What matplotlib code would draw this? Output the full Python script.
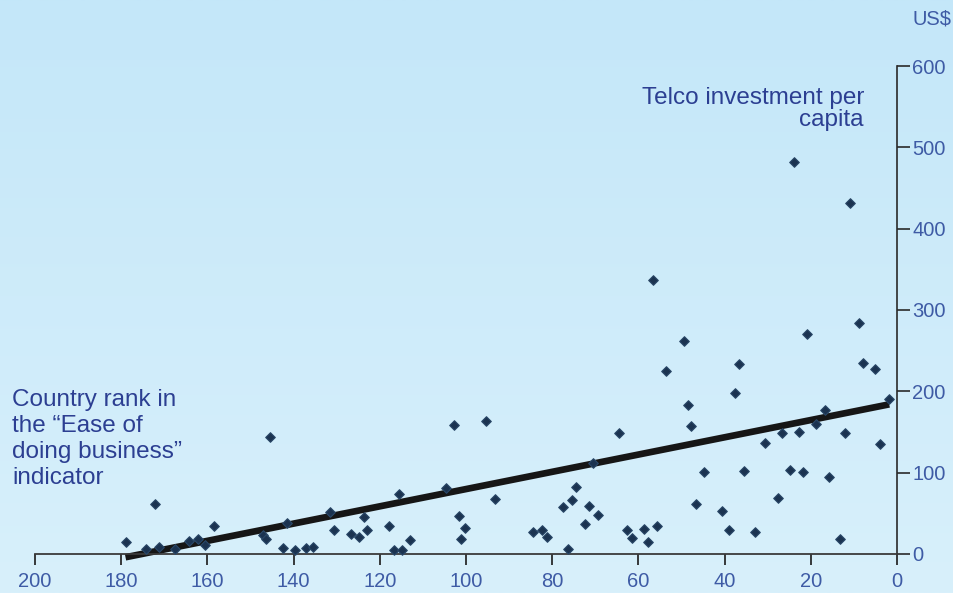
import numpy as np
import matplotlib
matplotlib.use('Agg')
import matplotlib.pyplot as plt
from matplotlib.colors import LinearSegmentedColormap

# Country rank in the "Ease of doing business" indicator
rank = [179.0, 172.1, 174.2, 171.3, 167.6, 164.2, 162.1, 160.5, 158.4, 147.2,
        146.3, 145.4, 141.5, 142.5, 139.6, 137.1, 135.6, 131.5, 130.7, 126.7,
        124.8, 123.6, 122.9, 117.9, 116.8, 114.8, 115.6, 113.1, 104.7, 102.7,
        101.6, 100.3, 101.1, 95.3, 93.3, 84.5, 82.4, 81.3, 77.4, 76.3,
        75.3, 74.4, 72.4, 71.4, 70.5, 69.4, 64.4, 62.6, 61.6, 58.6,
        57.8, 55.7, 56.6, 53.5, 49.5, 48.6, 47.7, 46.6, 44.7, 40.6,
        38.9, 37.7, 36.7, 35.6, 32.9, 30.7, 27.7, 26.7, 24.8, 23.8,
        22.7, 21.8, 20.8, 18.7, 16.8, 15.8, 13.2, 12.0, 10.8, 8.9,
        7.8, 5.0, 3.9, 1.8]
# Telco investment per capita, US$
invest = [15, 62, 6, 9, 6, 16, 18, 11, 35, 23,
          18, 144, 38, 7, 5, 7, 9, 52, 30, 25,
          21, 46, 30, 35, 5, 5, 74, 17, 81, 158,
          47, 32, 19, 163, 68, 27, 29, 21, 58, 6,
          67, 82, 37, 59, 112, 48, 149, 29, 20, 31,
          15, 34, 337, 225, 262, 183, 157, 62, 101, 53,
          30, 198, 234, 102, 27, 136, 69, 149, 103, 482,
          150, 101, 271, 160, 177, 95, 19, 149, 432, 284,
          235, 228, 135, 191]

trend_rank = [179.0, 1.8]
trend_invest = [-4, 184]

x_ticks = [200, 180, 160, 140, 120, 100, 80, 60, 40, 20, 0]
y_ticks = [0, 100, 200, 300, 400, 500, 600]

plt.rcParams['font.family'] = ['Liberation Sans', 'DejaVu Sans']

fig = plt.figure(figsize=(9.54, 5.93), dpi=100)

bg = fig.add_axes([0, 0, 1, 1], zorder=0)
grad = np.linspace(0, 1, 256).reshape(-1, 1)
cmap = LinearSegmentedColormap.from_list('bg', ['#C4E7F9', '#D8F0FB'])
bg.imshow(grad, aspect='auto', cmap=cmap, extent=[0, 1, 0, 1], origin='upper')
bg.axis('off')

ax = fig.add_axes([35 / 954, 0.0548, 862 / 954, 0.8339], zorder=1)
ax.patch.set_alpha(0)
ax.set_xlim(200, 0)
ax.set_ylim(-8, 600)

ax.plot(trend_rank, trend_invest, color='#161616', lw=4.8, solid_capstyle='butt', zorder=2)
ax.scatter(rank, invest, marker='D', s=24, color='#1B3350', edgecolors='#2A4868',
           linewidths=0.8, zorder=3)

for s in ['top', 'left']:
    ax.spines[s].set_visible(False)
ax.spines['bottom'].set_position(('data', 0))
ax.spines['bottom'].set_color('#3a3a3a')
ax.spines['bottom'].set_linewidth(1.3)
ax.spines['right'].set_bounds(0, 600)
ax.spines['right'].set_color('#2a2a2a')
ax.spines['right'].set_linewidth(1.2)

ax.set_xticks(x_ticks)
ax.set_xticklabels([str(t) for t in x_ticks])
ax.set_yticks(y_ticks)
ax.set_yticklabels([str(t) for t in y_ticks])
ax.yaxis.tick_right()
ax.tick_params(axis='x', direction='out', length=8, width=1.3, color='#2a2a2a',
               pad=5, labelsize=14.5, labelcolor='#3E5BA5')
ax.tick_params(axis='y', direction='out', length=9, width=1.2, color='#2a2a2a',
               pad=2, labelsize=14.5, labelcolor='#3E5BA5')

fig.text(12 / 954, 1 - 389 / 593, "Country rank in\nthe \u201cEase of\ndoing business\u201d\nindicator",
         ha='left', va='top', fontsize=17.5, color='#2C3F92', linespacing=1.24)
fig.text(864 / 954, 1 - 87 / 593, "Telco investment per\ncapita",
         ha='right', va='top', multialignment='right', fontsize=17.5,
         color='#2C3F92', linespacing=1.0)
fig.text(952 / 954, 1 - 10 / 593, "US$", ha='right', va='top', fontsize=14.5,
         color='#3E5BA5')

fig.savefig('out.png', dpi=100)
